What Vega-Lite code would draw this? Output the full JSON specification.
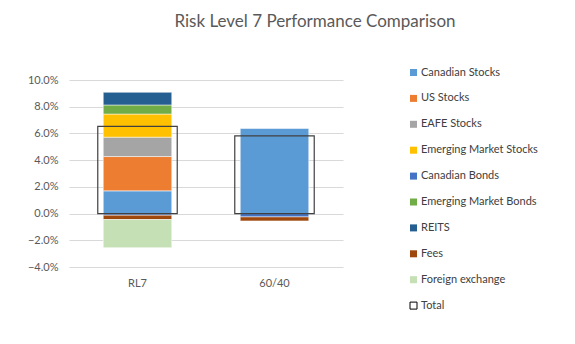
{
  "$schema": "https://vega.github.io/schema/vega-lite/v6.json",
  "width": 274,
  "height": 187,
  "autosize": "none",
  "padding": {"left": 69, "top": 80, "right": 232, "bottom": 77},
  "background": "#ffffff",
  "config": {
    "font": "Lato",
    "view": {"stroke": null},
    "axis": {"labelColor": "#595959", "labelFontSize": 11, "labelFont": "Lato", "titleColor": "#595959"}
  },
  "title": {
    "text": "Risk Level 7 Performance Comparison",
    "anchor": "middle",
    "frame": "group",
    "dx": 109,
    "offset": 36,
    "fontSize": 17,
    "fontWeight": "normal",
    "color": "#595959",
    "font": "Lato"
  },
  "data": {
    "values": [
      {"cat": "RL7", "series": "Canadian Stocks", "value": 0.0170, "rank": 1},
      {"cat": "RL7", "series": "US Stocks", "value": 0.0257, "rank": 2},
      {"cat": "RL7", "series": "EAFE Stocks", "value": 0.0145, "rank": 3},
      {"cat": "RL7", "series": "Emerging Market Stocks", "value": 0.0173, "rank": 4},
      {"cat": "RL7", "series": "Canadian Bonds", "value": -0.0012, "rank": 5},
      {"cat": "RL7", "series": "Emerging Market Bonds", "value": 0.0068, "rank": 6},
      {"cat": "RL7", "series": "REITS", "value": 0.0095, "rank": 7},
      {"cat": "RL7", "series": "Fees", "value": -0.0033, "rank": 8},
      {"cat": "RL7", "series": "Foreign exchange", "value": -0.0210, "rank": 9},
      {"cat": "60/40", "series": "Canadian Stocks", "value": 0.0637, "rank": 1},
      {"cat": "60/40", "series": "Canadian Bonds", "value": -0.0025, "rank": 5},
      {"cat": "60/40", "series": "Fees", "value": -0.0030, "rank": 8}
    ]
  },
  "layer": [
    {
      "mark": {"type": "bar", "stroke": "#ffffff", "strokeWidth": 0.5},
      "encoding": {
        "x": {
          "field": "cat", "type": "nominal", "sort": ["RL7", "60/40"],
          "scale": {"paddingInner": 0.5, "paddingOuter": 0.25},
          "axis": {"title": null, "labelAngle": 0, "domain": false, "ticks": false, "labelPadding": 10, "labelFontSize": 11}
        },
        "y": {
          "field": "value", "type": "quantitative", "stack": "zero",
          "scale": {"domain": [-0.04, 0.10], "nice": false, "zero": false},
          "axis": {"title": null, "format": ".1%", "values": [-0.04, -0.02, 0, 0.02, 0.04, 0.06, 0.08, 0.10], "labelOverlap": false, "domain": false, "ticks": false, "labelPadding": 11, "gridColor": "#D9D9D9", "gridWidth": 1}
        },
        "order": {"field": "rank", "type": "quantitative", "sort": "ascending"},
        "color": {
          "field": "series", "type": "nominal",
          "scale": {
            "domain": ["Canadian Stocks", "US Stocks", "EAFE Stocks", "Emerging Market Stocks", "Canadian Bonds", "Emerging Market Bonds", "REITS", "Fees", "Foreign exchange", "Total"],
            "range": ["#5B9BD5", "#ED7D31", "#A5A5A5", "#FFC000", "#4472C4", "#70AD47", "#255E91", "#9E480E", "#C5E0B4", "#ffffff"]
          },
          "legend": {
            "title": null,
            "orient": "none",
            "legendX": 339,
            "legendY": -13,
            "symbolType": "square",
            "symbolSize": 49,
            "symbolStrokeColor": "#000000",
            "labelFontSize": 11,
            "labelFont": "Lato",
            "labelColor": "#404040",
            "rowPadding": 13.9,
            "labelOffset": 2,
            "padding": 0,
            "encode": {
              "symbols": {
                "update": {
                  "stroke": {"value": "#000000"},
                  "strokeWidth": {"signal": "datum.label === 'Total' ? 1 : 0"}
                }
              }
            }
          }
        }
      }
    },
    {
      "data": {"values": [{"cat": "RL7", "total": 0.0653}, {"cat": "60/40", "total": 0.0582}]},
      "mark": {"type": "bar", "fill": "transparent", "stroke": "#404040", "strokeWidth": 1.2, "width": {"band": 1.16}},
      "encoding": {
        "x": {"field": "cat", "type": "nominal", "sort": ["RL7", "60/40"]},
        "y": {
          "field": "total", "type": "quantitative",
          "scale": {"domain": [-0.04, 0.10], "nice": false, "zero": false},
          "axis": {"title": null, "format": ".1%", "values": [-0.04, -0.02, 0, 0.02, 0.04, 0.06, 0.08, 0.10], "labelOverlap": false, "domain": false, "ticks": false, "labelPadding": 11, "gridColor": "#D9D9D9", "gridWidth": 1}
        }
      }
    }
  ]
}
